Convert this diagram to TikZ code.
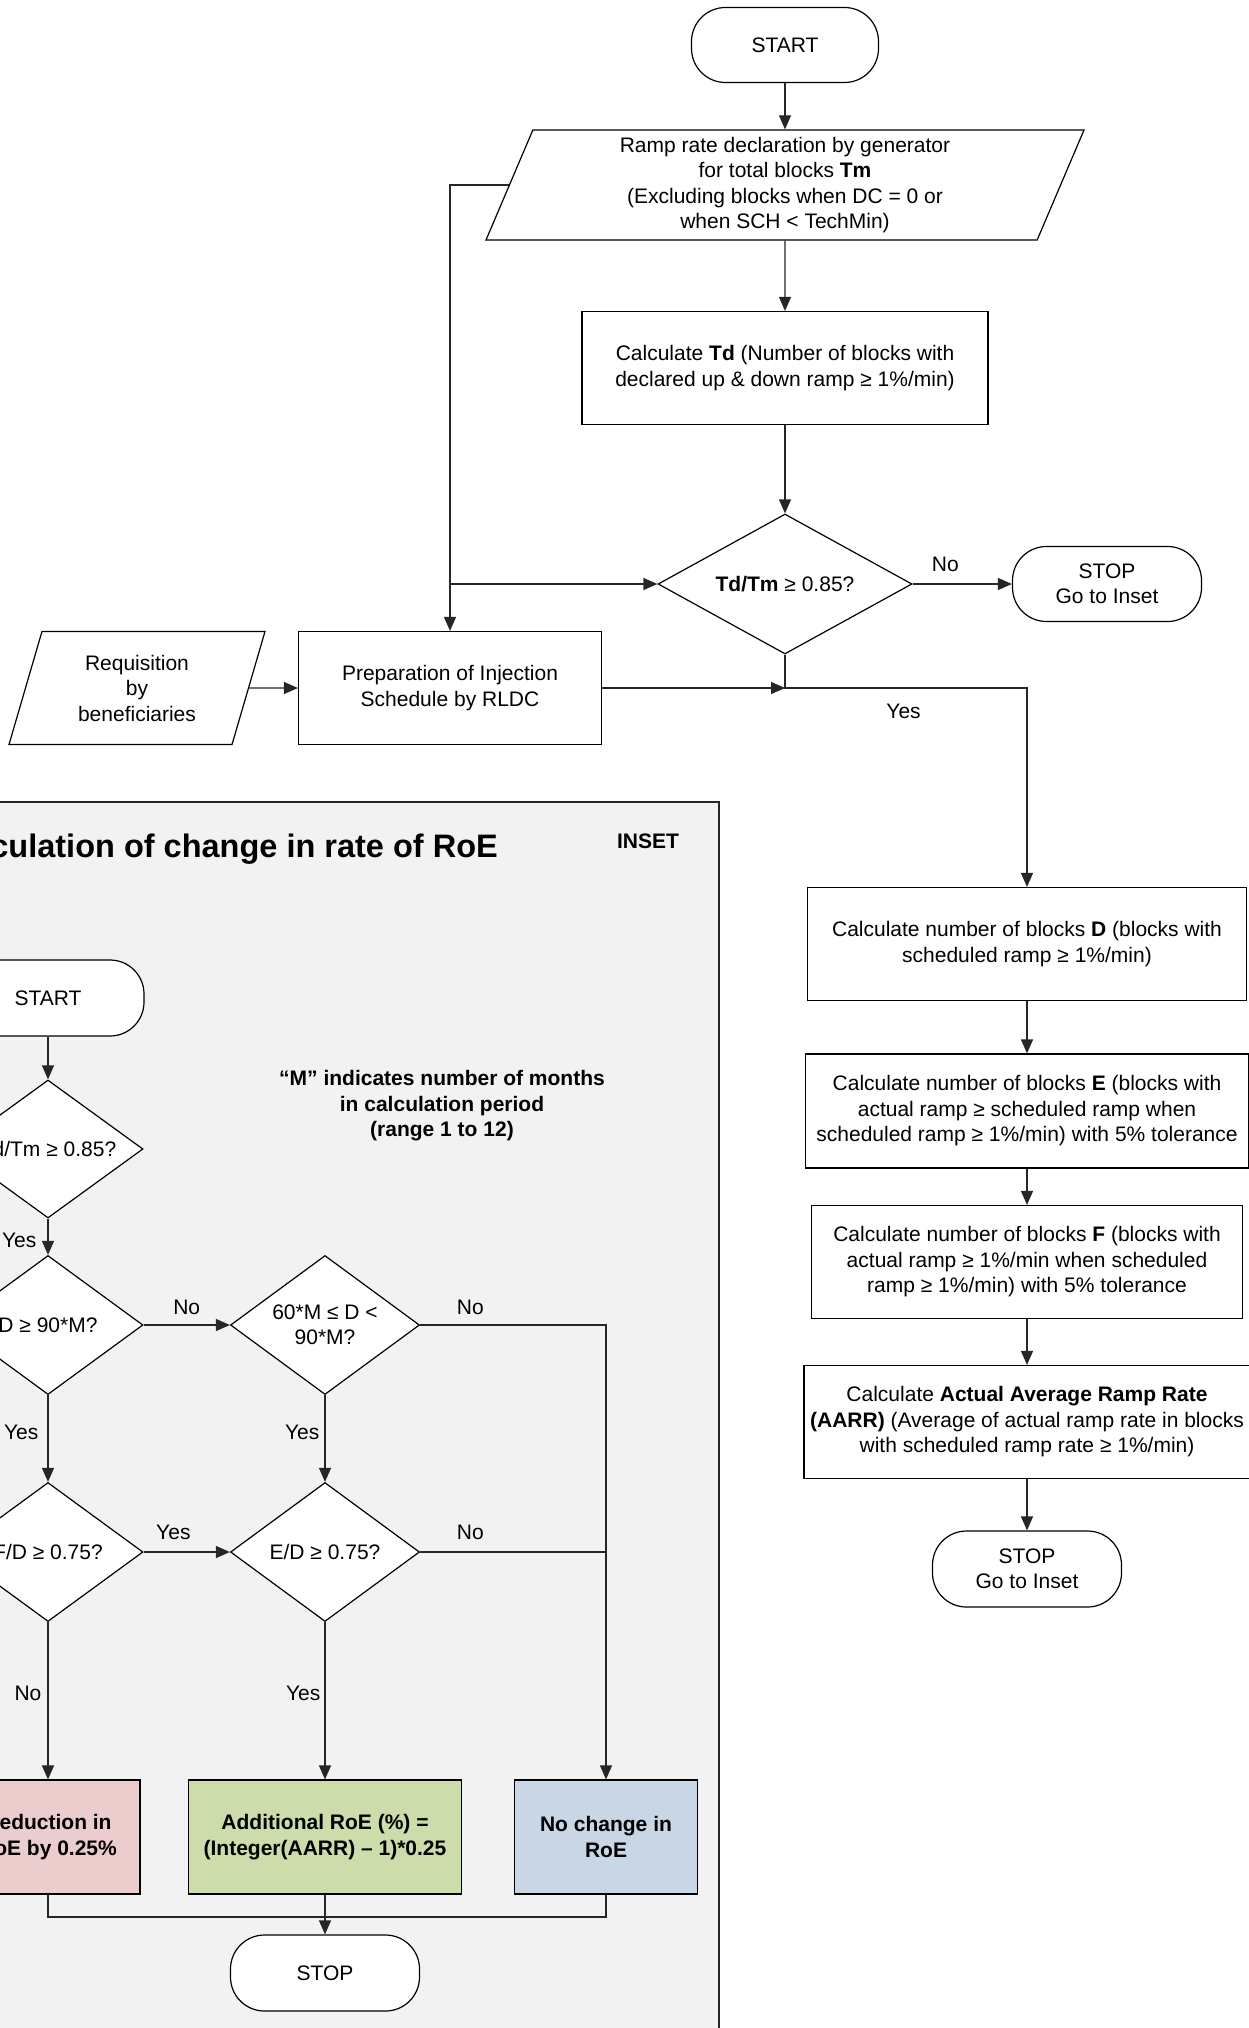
\documentclass[tikz,border=0pt]{standalone}
\usepackage{fontspec}
\setmainfont{Liberation Sans}
\usetikzlibrary{shapes.geometric, arrows.meta}

\newcommand{\flowfont}{\fontsize{21}{25.5}\selectfont}
\definecolor{panelgray}{HTML}{F2F2F2}
\definecolor{redfill}{HTML}{EBCDCD}
\definecolor{greenfill}{HTML}{CCDCAA}
\definecolor{bluefill}{HTML}{C9D6E5}

\tikzset{
  conn/.style = {line width=1.2pt, draw=black!85},
  flow/.style = {conn, -{Triangle[length=14pt, width=12pt]}},
  terminal/.style = {draw, line width=1.2pt, fill=white, rounded corners=34pt,
    minimum width=189pt, minimum height=76pt, align=center, inner sep=0pt, font=\flowfont},
  process/.style = {draw, line width=1.2pt, fill=white, minimum height=113pt,
    align=center, inner sep=0pt, font=\flowfont},
  decision/.style = {diamond, draw, line width=1.2pt, fill=white, align=center,
    inner sep=0pt, font=\flowfont},
  io/.style = {trapezium, trapezium left angle=64, trapezium right angle=116,
    trapezium stretches body, draw, line width=1.2pt, fill=white, align=center,
    inner sep=0pt, font=\flowfont},
  result/.style = {process, minimum height=114pt, font=\flowfont\bfseries},
  lbl/.style = {inner sep=0pt, font=\flowfont},
}

\begin{document}
\begin{tikzpicture}[x=1pt, y=-1pt]
  \useasboundingbox (0, 0) rectangle (1249, 2028);
  \clip (0, 0) rectangle (1249, 2028);
  \fill[white] (0, 0) rectangle (1249, 2028);

  % main flow
  \node[terminal, minimum width=187pt, minimum height=75pt] (start) at (785, 45) {START};
  \node[io, minimum width=598pt, minimum height=110pt] (ramp) at (785, 185)
    {Ramp rate declaration by generator\\for total blocks \textbf{Tm}\\(Excluding blocks when DC = 0 or\\when SCH < TechMin)};
  \node[process, minimum width=406pt] (calctd) at (785, 368)
    {Calculate \textbf{Td} (Number of blocks with\\declared up \& down ramp ≥ 1\%/min)};
  \node[decision, minimum width=254pt, minimum height=140pt, shape aspect=1.8] (tdtm) at (785, 584)
    {\textbf{Td/Tm} ≥ 0.85?};
  \node[terminal, minimum height=75pt] (stopmain) at (1107, 584) {STOP\\Go to Inset};
  \node[io, trapezium left angle=63.6, trapezium right angle=116.4, minimum width=256pt,
    minimum height=113pt] (req) at (137, 688) {Requisition\\by\\beneficiaries};
  \node[process, minimum width=303pt] (prep) at (450, 688) {Preparation of Injection\\Schedule by RLDC};

  \node[process, minimum width=439pt] (calcd) at (1027, 944)
    {Calculate number of blocks \textbf{D} (blocks with\\scheduled ramp ≥ 1\%/min)};
  \node[process, minimum width=443pt, minimum height=114pt] (calce) at (1027, 1111)
    {Calculate number of blocks \textbf{E} (blocks with\\actual ramp ≥ scheduled ramp when\\scheduled ramp ≥ 1\%/min) with 5\% tolerance};
  \node[process, minimum width=431pt] (calcf) at (1027, 1262)
    {Calculate number of blocks \textbf{F} (blocks with\\actual ramp ≥ 1\%/min when scheduled\\ramp ≥ 1\%/min) with 5\% tolerance};
  \node[process, minimum width=446pt] (aarr) at (1027, 1422)
    {Calculate \textbf{Actual Average Ramp Rate}\\\textbf{(AARR)} (Average of actual ramp rate in blocks\\with scheduled ramp rate ≥ 1\%/min)};
  \node[terminal] (stopaarr) at (1027, 1569) {STOP\\Go to Inset};

  \draw[flow] (start) -- (ramp);
  \draw[flow] (ramp) -- (calctd);
  \draw[flow] (calctd) -- (tdtm);
  \draw[flow] (tdtm) -- node[lbl, pos=0.33, above=11.5pt] (tdno) {No} (stopmain);
  \coordinate (split) at (prep.north |- tdtm.west);
  \draw[flow] (ramp.west) -| (prep.north);
  \draw[flow] (split) -- (tdtm.west);
  \draw[flow] (req) -- (prep);
  \coordinate (merge) at (tdtm.south |- prep.east);
  \draw[flow] (prep.east) -- (merge);
  \draw[flow] (tdtm.south) -- (merge) -| node[lbl, pos=0.245, below=15pt] (tdyes) {Yes} (calcd.north);
  \draw[flow] (calcd) -- (calce);
  \draw[flow] (calce) -- (calcf);
  \draw[flow] (calcf) -- (aarr);
  \draw[flow] (aarr) -- (stopaarr);

  % inset
  \draw[conn, fill=panelgray] (-20, 802) rectangle (719, 2060);
  \node[anchor=base east, inner sep=0pt, font=\fontsize{32.5}{38}\selectfont\bfseries] (insettitle)
    at (498, 857) {Calculation of change in rate of RoE};
  \node[lbl, font=\flowfont\bfseries] (insettag) at (648, 841) {INSET};
  \node[lbl, align=center, font=\flowfont\bfseries] (mnote) at (442, 1106)
    {“M” indicates number of months\\in calculation period\\(range 1 to 12)};

  \node[terminal, minimum width=192pt] (istart) at (48, 998) {START};
  \node[decision, minimum width=190pt, minimum height=138pt, shape aspect=1.37] (itdtm) at (48, 1149) {Td/Tm ≥ 0.85?};
  \node[decision, minimum width=190pt, minimum height=139pt, shape aspect=1.37] (ihigh) at (48, 1325) {D ≥ 90*M?};
  \node[decision, minimum width=189pt, minimum height=139pt, shape aspect=1.37] (imid) at (325, 1325) {60*M ≤ D <\\90*M?};
  \node[decision, minimum width=190pt, minimum height=139pt, shape aspect=1.37] (ifd) at (48, 1552) {F/D ≥ 0.75?};
  \node[decision, minimum width=189pt, minimum height=139pt, shape aspect=1.37] (ied) at (325, 1552) {E/D ≥ 0.75?};
  \node[result, fill=redfill, minimum width=184pt] (ireduce) at (48, 1837) {Reduction in\\RoE by 0.25\%};
  \node[result, fill=greenfill, minimum width=273pt] (iadd) at (325, 1837) {Additional RoE (\%) =\\(Integer(AARR) – 1)*0.25};
  \node[result, fill=bluefill, minimum width=183pt] (inochange) at (606, 1837) {No change in\\RoE};
  \node[terminal] (istop) at (325, 1973) {STOP};

  \draw[flow] (istart) -- (itdtm);
  \draw[flow] (itdtm) -- node[lbl, pos=0.6, left=11pt] (iyes1) {Yes} (ihigh);
  \draw[flow] (ihigh) -- node[lbl, midway, above=9.5pt] (ino1) {No} (imid);
  \draw[flow] (imid.east) -| node[lbl, pos=0.135, above=9.5pt] (ino2) {No} (inochange.north);
  \draw[flow] (ihigh) -- node[lbl, pos=0.43, left=9pt] (iyes2) {Yes} (ifd);
  \draw[flow] (imid) -- node[lbl, pos=0.43, left=5pt] (iyes3) {Yes} (ied);
  \draw[flow] (ifd) -- node[lbl, pos=0.345, above=11.5pt] (iyes4) {Yes} (ied);
  \draw[conn] (ied.east) -- node[lbl, pos=0.27, above=11.5pt] (ino3) {No} (ied.east -| inochange.north);
  \draw[flow] (ifd) -- node[lbl, pos=0.45, left=6pt] (ino4) {No} (ireduce);
  \draw[flow] (ied) -- node[lbl, pos=0.45, left=4pt] (iyes5) {Yes} (iadd);
  \coordinate (ijoin) at (325, 1917);
  \draw[conn] (ireduce.south) |- (ijoin) -| (inochange.south);
  \draw[flow] (iadd) -- (istop);
\end{tikzpicture}
\end{document}
